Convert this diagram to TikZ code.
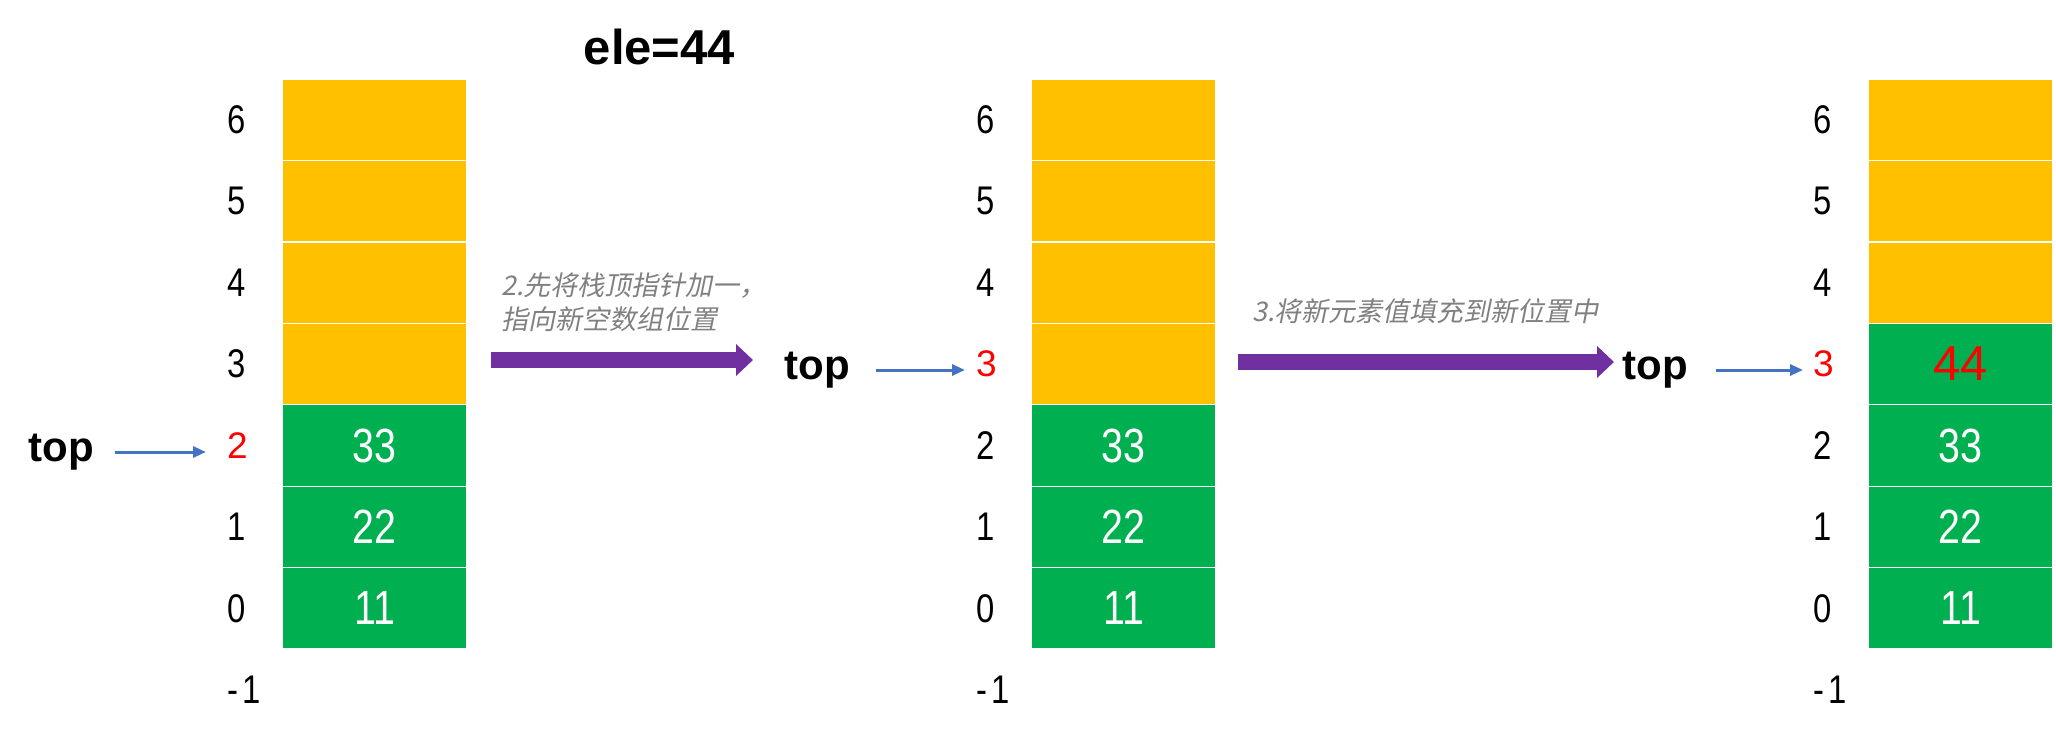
\documentclass[tikz,border=0pt]{standalone}
\usepackage{fontspec}
\setmainfont{Liberation Sans}
\newfontfamily\numfont[FakeStretch=0.82]{Liberation Sans}
\newfontfamily\cjkfont[FakeSlant=0.2]{Noto Sans CJK SC}
\usetikzlibrary{arrows.meta}
\definecolor{stackgreen}{RGB}{0,176,80}
\definecolor{stackorange}{RGB}{255,192,0}
\definecolor{ptrblue}{RGB}{68,114,196}
\definecolor{bigpurple}{RGB}{112,48,160}
\definecolor{notegray}{RGB}{128,128,128}
\definecolor{hotred}{RGB}{255,0,0}
\tikzset{
  cellbox/.style={minimum width=185pt, minimum height=81.4pt, inner sep=0pt,
    draw=white, line width=1.2pt, text=white, font=\numfont\fontsize{48}{56}\selectfont},
  fullcell/.style={cellbox, fill=stackgreen},
  emptycell/.style={cellbox, fill=stackorange},
  idx/.style={anchor=west, inner sep=0pt, font=\numfont\fontsize{40}{48}\selectfont},
  redidx/.style={anchor=west, inner sep=0pt, text=hotred, font=\rmfamily\fontsize{37}{44}\selectfont},
  toplabel/.style={inner sep=0pt, font=\bfseries\fontsize{42}{50}\selectfont},
  ptr/.style={draw=ptrblue, line width=3pt, -{Triangle[length=13pt,width=11pt]}},
  bigarrow/.style={draw=bigpurple, line width=16pt, -{Triangle[length=17pt,width=31pt]}},
  note/.style={text=notegray, anchor=west, inner sep=0pt, align=left,
    font=\cjkfont\fontsize{27}{34}\selectfont}
}
\begin{document}
\begin{tikzpicture}[x=1pt,y=-1pt]
\useasboundingbox (0,0) rectangle (2056,735);

% title
\node[inner sep=0pt, font=\bfseries\fontsize{49}{56}\selectfont] (title) at (659.5,47) {ele=44};

% ---------- stack a ----------
\foreach \i in {3,...,6} {
  \node[emptycell] (a\i) at (374.5,{649-81.4*(\i+0.5)}) {};
}
\node[fullcell] (a0) at (374.5,608.3) {11};
\node[fullcell] (a1) at (374.5,526.9) {22};
\node[fullcell] (a2) at (374.5,445.5) {33};
\foreach \i in {0,1,3,4,5,6} {
  \node[idx] (al\i) at (227,{649-81.4*(\i+0.5)}) {\i};
}
\node[redidx] (al2) at (227,445.5) {2};
\node[idx] (alm) at (227,689.7) {-\kern4pt1};
\node[toplabel] (ta) at (61.5,452) {top};
\draw[ptr] ([xshift=21pt]ta.east) -- ([xshift=-21pt]ta.east -| al2.west);

% ---------- stack b ----------
\foreach \i in {3,...,6} {
  \node[emptycell] (b\i) at (1123.5,{649-81.4*(\i+0.5)}) {};
}
\node[fullcell] (b0) at (1123.5,608.3) {11};
\node[fullcell] (b1) at (1123.5,526.9) {22};
\node[fullcell] (b2) at (1123.5,445.5) {33};
\foreach \i in {0,1,2,4,5,6} {
  \node[idx] (bl\i) at (976,{649-81.4*(\i+0.5)}) {\i};
}
\node[redidx] (bl3) at (976,364.1) {3};
\node[idx] (blm) at (976,689.7) {-\kern4pt1};
\node[toplabel] (tb) at (817,370) {top};
\draw[ptr] ([xshift=26pt]tb.east) -- ([xshift=-11pt]tb.east -| bl3.west);

% ---------- stack c ----------
\foreach \i in {4,...,6} {
  \node[emptycell] (c\i) at (1960.5,{649-81.4*(\i+0.5)}) {};
}
\node[fullcell] (c0) at (1960.5,608.3) {11};
\node[fullcell] (c1) at (1960.5,526.9) {22};
\node[fullcell] (c2) at (1960.5,445.5) {33};
\node[fullcell, text=hotred, font=\rmfamily\fontsize{49}{56}\selectfont] (c3) at (1960.5,364.1) {44};
\foreach \i in {0,1,2,4,5,6} {
  \node[idx] (cl\i) at (1813,{649-81.4*(\i+0.5)}) {\i};
}
\node[redidx] (cl3) at (1813,364.1) {3};
\node[idx] (clm) at (1813,689.7) {-\kern4pt1};
\node[toplabel] (tc) at (1655,370) {top};
\draw[ptr] ([xshift=28pt]tc.east) -- ([xshift=-10pt]tc.east -| cl3.west);

% ---------- big arrows and notes ----------
\coordinate (p1s) at (491,360);
\coordinate (p1e) at (753,360);
\draw[bigarrow] (p1s) -- (p1e);
\node[note] (n1) at (501,302.5) {2.先将栈顶指针加一，\\指向新空数组位置};

\coordinate (p2s) at (1238,362);
\coordinate (p2e) at (1614,362);
\draw[bigarrow] (p2s) -- (p2e);
\node[note] (n2) at (1252,311) {3.将新元素值填充到新位置中};
\end{tikzpicture}
\end{document}
